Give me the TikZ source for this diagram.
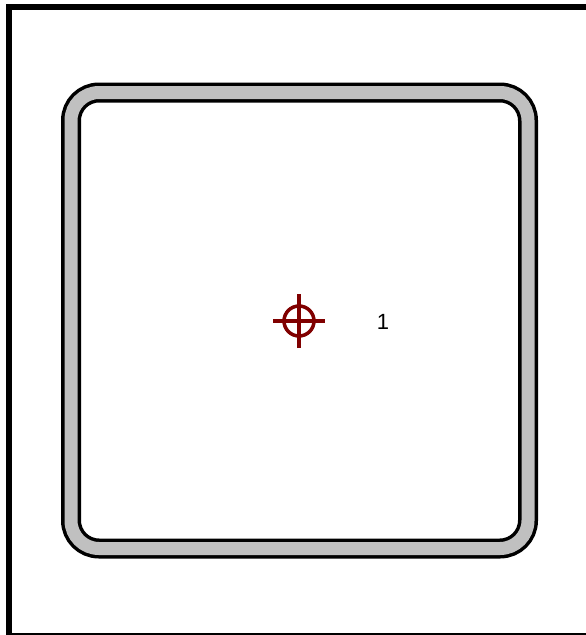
\documentclass[tikz,border=0pt]{standalone}
\usepackage{fontspec}
\setmainfont{Liberation Sans}
\definecolor{darkred}{RGB}{128,0,0}
\definecolor{bandgray}{RGB}{192,192,192}
\begin{document}
\begin{tikzpicture}[x=1pt,y=-1pt]
\tikzstyle{target} = [shape = circle,draw = darkred,line width = 3.5pt,minimum size = 30pt,inner sep=0pt]
\tikzstyle{label1} = [font=\fontsize{22}{26}\selectfont]

\useasboundingbox (0,0) rectangle (586,635);
\clip (0,0) rectangle (586,635);

% outer frame
\draw[line width=6pt] (9,7) rectangle (589,636);

% rounded band
\draw[line width=20pt,rounded corners=28pt] (71,92.5) rectangle (528,548.5);
\draw[bandgray,line width=13pt,rounded corners=28pt] (71,92.5) rectangle (528,548.5);

\node[target] (t) at (299,321) {};
\draw[darkred,line width=3.5pt] ([xshift=-26pt]t.center) -- ([xshift=26pt]t.center);
\draw[darkred,line width=3.5pt] ([yshift=-27pt]t.center) -- ([yshift=27pt]t.center);

\node[label1] (n1) at (383,322) {1};

\end{tikzpicture}
\end{document}
